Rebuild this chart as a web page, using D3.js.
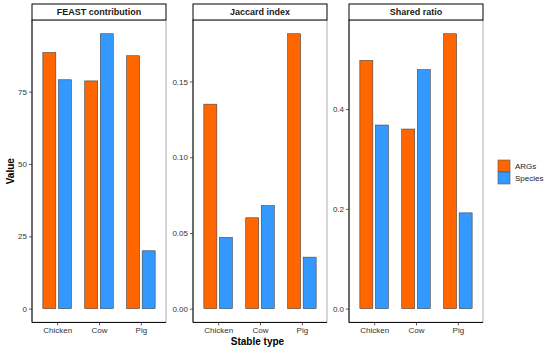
<!DOCTYPE html>
<html>
<head>
<meta charset="utf-8">
<script src="https://cdn.jsdelivr.net/npm/d3@7"></script>
<style>
  body { margin: 0; background: #fff; }
  text { font-family: "Liberation Sans", Arial, sans-serif; }
</style>
</head>
<body>
<script>
// data
var categories = ["Chicken", "Cow", "Pig"];
var groups = ["ARGs", "Species"];
var panelTitles = ["FEAST contribution", "Jaccard index", "Shared ratio"];

var feastArgs = [88.5, 78.7, 87.4];
var feastSpecies = [79.1, 95.0, 20.0];
var jaccardArgs = [0.135, 0.060, 0.1815];
var jaccardSpecies = [0.047, 0.068, 0.034];
var sharedArgs = [0.4975, 0.360, 0.551];
var sharedSpecies = [0.368, 0.479, 0.192];

var feastTicks = [0, 25, 50, 75];
var jaccardTicks = [0, 0.05, 0.10, 0.15];
var sharedTicks = [0, 0.2, 0.4];

var colors = {ARGs: "#FF6600", Species: "#3399FF"};

var panels = [
  {title: panelTitles[0], args: feastArgs, species: feastSpecies, ticks: feastTicks, fmt: d3.format("d")},
  {title: panelTitles[1], args: jaccardArgs, species: jaccardSpecies, ticks: jaccardTicks, fmt: d3.format(".2f")},
  {title: panelTitles[2], args: sharedArgs, species: sharedSpecies, ticks: sharedTicks, fmt: d3.format(".1f")}
];

var width = 550, height = 353;
var panelLeft = [32, 193, 349],
    panelW = 134,
    plotTop = 20, plotBottom = 322.4,
    stripTop = 4;

var svg = d3.select("body").append("svg")
    .attr("width", width)
    .attr("height", height);

panels.forEach(function(p, i) {
  var x0 = panelLeft[i];
  var g = svg.append("g").attr("transform", "translate(" + x0 + ",0)");

  var maxV = d3.max(p.args.concat(p.species));
  var y = d3.scaleLinear()
      .domain([-0.05 * maxV, 1.05 * maxV])
      .range([plotBottom, plotTop]);

  var x = d3.scalePoint()
      .domain(categories)
      .range([0, panelW])
      .padding(0.6);
  var step = x.step();
  var barW = 0.31 * step, off = 0.186 * step;

  // panel border (gray)
  g.append("rect")
      .attr("x", 0).attr("y", plotTop)
      .attr("width", panelW).attr("height", plotBottom - plotTop)
      .attr("fill", "none")
      .attr("stroke", "#9a9a9a")
      .attr("stroke-width", 0.8);

  // strip
  g.append("rect")
      .attr("x", 0).attr("y", stripTop)
      .attr("width", panelW).attr("height", plotTop - stripTop)
      .attr("fill", "#fff")
      .attr("stroke", "#000")
      .attr("stroke-width", 1);
  g.append("text")
      .attr("x", panelW / 2).attr("y", (stripTop + plotTop) / 2 + 3.3)
      .attr("text-anchor", "middle")
      .attr("font-size", "9px")
      .attr("font-weight", "bold")
      .attr("fill", "#1a1a1a")
      .text(p.title);

  // bars
  var rows = [];
  categories.forEach(function(c, j) {
    rows.push({cat: c, grp: "ARGs", v: p.args[j], dx: -off});
    rows.push({cat: c, grp: "Species", v: p.species[j], dx: off});
  });
  g.selectAll(".bar")
      .data(rows)
      .enter()
      .append("rect")
      .attr("class", "bar")
      .attr("x", function(d) { return x(d.cat) + d.dx - barW / 2; })
      .attr("y", function(d) { return y(d.v); })
      .attr("width", barW)
      .attr("height", function(d) { return y(0) - y(d.v); })
      .attr("fill", function(d) { return colors[d.grp]; })
      .attr("stroke", "#444")
      .attr("stroke-width", 0.6);

  // axes
  var ya = g.append("g")
      .call(d3.axisLeft(y).tickValues(p.ticks).tickFormat(p.fmt).tickSize(3).tickPadding(2));
  var xa = g.append("g")
      .attr("transform", "translate(0," + plotBottom + ")")
      .call(d3.axisBottom(x).tickSize(3).tickPadding(2));
  [ya, xa].forEach(function(a) {
    a.select(".domain").attr("stroke", "#000").attr("stroke-width", 1);
    a.selectAll(".tick line").attr("stroke", "#333").attr("stroke-width", 0.8);
    a.selectAll(".tick text")
        .attr("fill", "#333")
        .attr("font-size", "8px")
        .attr("font-family", "Liberation Sans, Arial, sans-serif");
  });
  ya.select(".domain").attr("d", "M0," + plotTop + "V" + plotBottom);
  xa.select(".domain").attr("d", "M0,0H" + panelW);
});

// axis titles
svg.append("text")
    .attr("x", (panelLeft[0] + panelLeft[2] + panelW) / 2)
    .attr("y", 345)
    .attr("text-anchor", "middle")
    .attr("font-size", "10px")
    .attr("font-weight", "bold")
    .text("Stable type");

svg.append("text")
    .attr("transform", "translate(14," + (plotTop + plotBottom) / 2 + ") rotate(-90)")
    .attr("text-anchor", "middle")
    .attr("font-size", "10px")
    .attr("font-weight", "bold")
    .text("Value");

// legend
var lg = svg.append("g").attr("transform", "translate(498,160)");
groups.forEach(function(gname, i) {
  lg.append("rect")
      .attr("x", 0).attr("y", i * 12)
      .attr("width", 12).attr("height", 12)
      .attr("fill", colors[gname])
      .attr("stroke", "#555")
      .attr("stroke-width", 0.6);
  lg.append("text")
      .attr("x", 17).attr("y", i * 12 + 9)
      .attr("font-size", "8px")
      .attr("fill", "#1a1a1a")
      .text(gname);
});
</script>
</body>
</html>
